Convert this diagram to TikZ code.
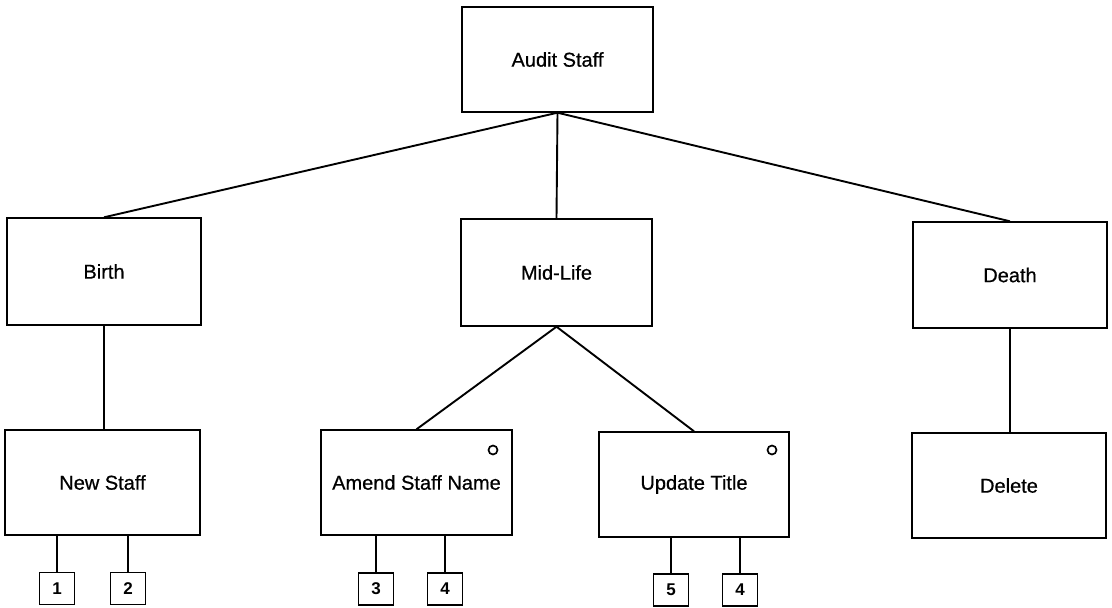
\documentclass[tikz,border=0pt]{standalone}
\usepackage{fontspec}
\setmainfont{Liberation Sans}[FakeBold=0.6]
\newfontfamily\numfont{Liberation Sans}
\begin{document}
\begin{tikzpicture}[x=1pt,y=-1pt,
  box/.style={draw, line width=1.4pt, rectangle, inner sep=0pt, font=\fontsize{20}{24}\selectfont},
  numbox/.style={draw, line width=1.4pt, rectangle, inner sep=0pt, minimum width=35pt, minimum height=32pt, font=\numfont\bfseries\fontsize{17}{20}\selectfont},
  conn/.style={line width=1.9pt},
  sconn/.style={line width=1.5pt},
  optmark/.style={circle, draw, line width=1.7pt, inner sep=0pt, minimum size=9pt}]
\useasboundingbox (0,0) rectangle (1112,608);
\fill[white] (0,0) rectangle (1112,608);
% main boxes
\node[box, minimum width=191pt, minimum height=105pt] (audit) at (557.5,59.5) {Audit Staff};
\node[box, minimum width=194pt, minimum height=107pt] (birth) at (104,271.5) {Birth};
\node[box, minimum width=191pt, minimum height=107pt] (mid) at (556.5,272.5) {Mid-Life};
\node[box, minimum width=194pt, minimum height=106pt] (death) at (1010,275) {Death};
\node[box, minimum width=195pt, minimum height=105pt] (newstaff) at (102.5,482.5) {New Staff};
\node[box, minimum width=191pt, minimum height=105pt] (amend) at (416.5,482.5) {Amend Staff Name};
\node[box, minimum width=190pt, minimum height=105pt] (update) at (694,484.5) {Update Title};
\node[box, minimum width=194pt, minimum height=105pt] (delete) at (1009,485.5) {Delete};
% optional markers
\node[optmark] (o1) at (493,450) {};
\node[optmark] (o2) at (772,450) {};
% number boxes
\node[numbox] (n1) at (57,588.5) {1};
\node[numbox] (n2) at (128,588.5) {2};
\node[numbox] (n3) at (376,589) {3};
\node[numbox] (n4) at (445,589) {4};
\node[numbox] (n5) at (671,590) {5};
\node[numbox] (n6) at (740,590) {4};
% connectors
\draw[conn] (audit.south) -- (birth.north);
\draw[conn] (audit.south) -- (mid.north);
\draw[conn] (audit.south) -- (death.north);
\draw[conn] (birth.south) -- (birth.south |- newstaff.north);
\draw[conn] (mid.south) -- (amend.north);
\draw[conn] (mid.south) -- (update.north);
\draw[conn] (death.south) -- (delete.north -| death.south);
\draw[sconn] (newstaff.south -| n1.north) -- (n1.north);
\draw[sconn] (newstaff.south -| n2.north) -- (n2.north);
\draw[sconn] (amend.south -| n3.north) -- (n3.north);
\draw[sconn] (amend.south -| n4.north) -- (n4.north);
\draw[sconn] (update.south -| n5.north) -- (n5.north);
\draw[sconn] (update.south -| n6.north) -- (n6.north);
\end{tikzpicture}
\end{document}
